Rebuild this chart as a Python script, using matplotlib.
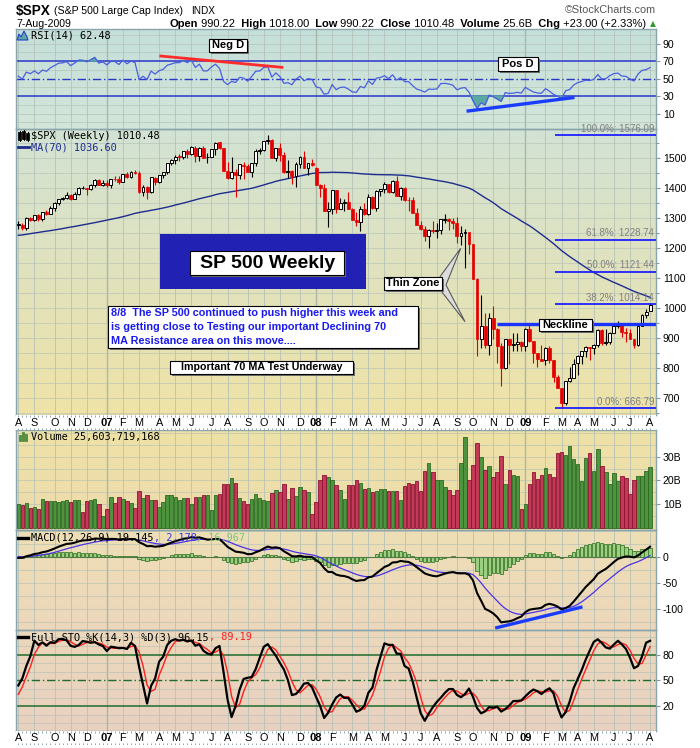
import numpy as np
import pandas as pd
import matplotlib
matplotlib.use("Agg")
import matplotlib.pyplot as plt
from matplotlib.patches import Rectangle, Polygon
from matplotlib.lines import Line2D
from matplotlib.colors import LinearSegmentedColormap

# ---------------- weekly S&P 500 data ----------------
first_week = "2006-08-04"

# closes of the 69 weeks before the first bar (used to warm up MA / RSI / MACD)
closes_prior = [
    1181.2, 1142.6, 1152.1, 1156.9, 1171.4, 1154.1, 1189.3, 1198.8, 1196.0, 1200.9,
    1217.0, 1191.6, 1211.9, 1211.9, 1227.9, 1233.7, 1234.2, 1226.4, 1230.4, 1219.7,
    1205.1, 1235.4, 1241.5, 1237.9, 1215.3, 1228.8, 1195.9, 1186.6, 1179.6, 1198.4,
    1220.1, 1234.7, 1248.3, 1268.3, 1265.1, 1259.4, 1267.3, 1268.7, 1248.3,
    1285.5, 1287.6, 1261.5, 1283.7, 1264.0, 1267.0, 1287.2, 1289.4, 1287.2, 1281.4,
    1307.3, 1303.0, 1294.8, 1295.5, 1289.1, 1311.3, 1310.6, 1325.8, 1291.2, 1267.0,
    1280.2, 1288.2, 1252.3, 1251.5, 1244.5, 1270.2, 1265.5, 1236.2, 1240.3, 1278.6]
# highs / lows of the last 18 prior weeks (stochastic warm-up)
highs_prior = [1310, 1310, 1300, 1318, 1316, 1326, 1326, 1294, 1286,
               1291, 1289, 1257, 1258, 1276, 1280, 1273, 1262, 1280]
lows_prior = [1291, 1292, 1280, 1285, 1300, 1303, 1290, 1259, 1245,
              1262, 1250, 1219, 1238, 1238, 1265, 1234, 1225, 1235]

opens = [
    1279, 1279, 1267, 1302, 1295, 1311, 1299, 1320, 1315, 1336,
    1350, 1366, 1369, 1377, 1364, 1381, 1401, 1401, 1397, 1410,
    1427, 1411,
    1418, 1410, 1431, 1431, 1422, 1448, 1438, 1455,
    1451, 1387, 1403, 1387, 1436, 1421, 1444, 1453, 1484, 1494,
    1506, 1506, 1523, 1516, 1536, 1508, 1533, 1503, 1503, 1530,
    1553, 1534, 1459, 1433, 1454, 1446, 1479, 1474, 1454, 1484,
    1526, 1527, 1558, 1562, 1501, 1535, 1510, 1454, 1459, 1441,
    1481, 1505, 1468, 1484,
    1468, 1412, 1401, 1325, 1331, 1395, 1331, 1350, 1353, 1331,
    1293, 1288, 1330, 1315, 1370, 1333, 1390, 1398, 1414, 1388,
    1425, 1376, 1400, 1361, 1360, 1318, 1278, 1263, 1240, 1261,
    1258, 1260, 1296, 1298, 1292, 1283, 1242, 1252, 1255, 1213,
    1099, 899, 941, 877, 969, 931, 873, 800, 896, 876,
    880, 888,
    873, 932, 890, 850, 832, 826, 869, 827, 770, 735,
    683, 757, 769, 816, 842, 857, 870, 866, 877, 929,
    883, 887, 919, 940, 946, 921, 919, 896, 879, 940,
    979, 990.22]

highs = [
    1292, 1283, 1303, 1303, 1312, 1314, 1320, 1328, 1340, 1353,
    1366, 1372, 1389, 1381, 1388, 1403, 1407, 1402, 1416, 1431,
    1430, 1427,
    1429, 1432, 1441, 1441, 1449, 1453, 1457, 1461,
    1459, 1410, 1409, 1438, 1437, 1445, 1453, 1485, 1498, 1510,
    1514, 1523, 1530, 1540, 1540, 1538, 1540, 1517, 1532, 1555,
    1556, 1534, 1488, 1504, 1466, 1481, 1487, 1482, 1485, 1530,
    1533, 1559, 1576.09, 1565, 1536, 1552, 1520, 1493, 1462, 1488,
    1508, 1523, 1485, 1499,
    1472, 1416, 1414, 1355, 1396, 1396, 1368, 1365, 1388, 1336,
    1321, 1341, 1352, 1380, 1374, 1395, 1399, 1422, 1416, 1427,
    1440, 1406, 1405, 1371, 1370, 1333, 1292, 1273, 1263, 1292,
    1284, 1297, 1313, 1301, 1300, 1304, 1274, 1265, 1255, 1214,
    1100, 1044, 985, 984, 1007, 934, 885, 897, 897, 919,
    918, 892,
    934, 944, 891, 852, 877, 870, 875, 827, 779, 735,
    759, 804, 832, 845, 858, 875, 871, 880, 930, 931,
    930, 920, 951, 956, 946, 934, 931, 898, 942, 980,
    997, 1018.00]

lows = [
    1265, 1261, 1262, 1290, 1292, 1290, 1292, 1310, 1313, 1326,
    1343, 1360, 1366, 1360, 1363, 1379, 1397, 1377, 1394, 1404,
    1410, 1407,
    1403, 1402, 1424, 1416, 1420, 1434, 1434, 1447,
    1386, 1374, 1364, 1385, 1410, 1417, 1433, 1447, 1478, 1481,
    1491, 1499, 1501, 1510, 1487, 1492, 1500, 1484, 1503, 1510,
    1530, 1457, 1432, 1430, 1371, 1430, 1432, 1453, 1439, 1475,
    1516, 1526, 1547, 1500, 1490, 1492, 1450, 1435, 1416, 1406,
    1469, 1467, 1446, 1473,
    1411, 1370, 1325, 1270, 1316, 1317, 1331, 1325, 1330, 1293,
    1274, 1257, 1312, 1310, 1332, 1324, 1375, 1385, 1384, 1384,
    1373, 1362, 1358, 1326, 1317, 1278, 1260, 1225, 1200, 1250,
    1234, 1247, 1283, 1261, 1264, 1217, 1212, 1134, 1180, 1097,
    840, 866, 866, 845, 899, 818, 741, 798, 815, 856,
    857, 857,
    857, 888, 818, 804, 825, 812, 818, 754, 735, 666.79,
    676, 753, 769, 779, 814, 838, 826, 847, 872, 878,
    879, 882, 919, 934, 904, 888, 896, 869, 875, 940,
    968, 990.22]

closes = [
    1279.4, 1266.7, 1302.3, 1295.1, 1311.0, 1298.9, 1319.7, 1314.8, 1335.9, 1349.6,
    1365.6, 1368.6, 1377.3, 1364.3, 1380.9, 1401.2, 1401.0, 1396.7, 1409.8, 1427.1,
    1410.8, 1418.3,
    1409.7, 1430.7, 1430.5, 1422.2, 1448.4, 1438.1, 1455.5, 1451.2,
    1387.2, 1402.8, 1387.0, 1436.1, 1420.9, 1443.8, 1452.9, 1484.4, 1494.1, 1505.6,
    1505.9, 1522.8, 1515.7, 1536.3, 1507.7, 1532.9, 1502.6, 1503.4, 1530.4, 1552.5,
    1534.1, 1459.0, 1433.1, 1453.6, 1445.9, 1479.4, 1474.0, 1453.6, 1484.3, 1525.8,
    1526.8, 1557.6, 1561.8, 1500.6, 1535.3, 1509.7, 1453.7, 1458.7, 1440.7, 1481.1,
    1504.7, 1468.0, 1484.5, 1478.5,
    1411.6, 1401.0, 1325.2, 1330.6, 1395.4, 1331.3, 1350.0, 1353.1, 1330.6, 1293.4,
    1288.1, 1329.5, 1315.2, 1370.4, 1332.8, 1390.3, 1397.8, 1413.9, 1388.3, 1425.4,
    1375.9, 1400.4, 1360.7, 1360.0, 1317.9, 1278.4, 1262.9, 1239.5, 1260.7, 1257.8,
    1260.3, 1296.3, 1298.2, 1292.2, 1282.8, 1242.3, 1251.7, 1255.1, 1213.3, 1099.2,
    899.2, 940.6, 876.8, 968.8, 931.0, 873.3, 800.0, 896.2, 876.1, 879.7,
    887.9, 872.8,
    931.8, 890.4, 850.1, 832.0, 825.9, 868.6, 826.8, 770.1, 735.1, 683.4,
    756.6, 768.5, 815.9, 842.5, 856.6, 869.6, 866.2, 877.5, 929.2, 882.9,
    887.0, 919.1, 940.1, 946.2, 921.2, 918.9, 896.4, 879.1, 940.4, 979.3,
    987.5, 1010.48]

# weekly volume, billions of shares
volume_bn = [
    10.3, 9.6, 10.4, 8.5, 9.0, 8.0, 12.2, 11.2, 11.2, 11.2,
    10.9, 11.5, 11.8, 10.9, 11.8, 11.8, 6.8, 11.4, 11.9, 12.2,
    10.1, 5.2, 8.0, 13.1, 10.6, 13.1, 12.2, 11.2, 10.4, 8.5,
    15.6, 12.8, 13.7, 11.8, 11.8, 9.0, 10.9, 13.7, 14.1, 13.2,
    11.8, 12.6, 12.6, 10.3, 13.2, 13.2, 13.7, 14.1, 7.6, 13.7,
    14.4, 18.6, 18.6, 20.9, 19.1, 12.6, 11.2, 10.1, 12.2, 14.4,
    12.6, 11.8, 11.2, 14.8, 15.8, 15.2, 18.6, 12.2, 16.9, 13.6,
    17.2, 15.8, 15.2, 6.0, 10.9, 20.4, 22.1, 21.5, 20.2, 18.3,
    16.1, 12.2, 18.3,
    18.3, 20.2, 19.0, 16.4, 16.9, 15.2, 15.6, 16.4, 16.4, 15.6,
    15.6, 15.6, 11.8, 17.7, 19.0, 18.6, 19.8, 15.6, 24.0, 27.4,
    23.6, 20.2, 20.2, 17.3, 16.0, 13.9, 16.0, 27.4, 38.3, 20.2,
    26.6, 35.8, 29.9, 24.6, 25.9, 21.3, 23.5, 30.3, 18.6, 24.4,
    22.3, 21.9, 8.0, 10.1, 18.6, 23.5, 20.7, 22.3, 25.3, 22.7,
    21.5, 31.6, 32.0, 30.7, 34.5, 29.0, 26.9, 19.8, 29.4, 31.6,
    24.0, 33.2, 25.9, 23.5, 18.6, 23.2, 19.8, 21.9, 21.0, 14.3,
    20.2, 21.9, 21.9, 24.0, 25.6]

month_letters = {2: "F", 3: "M", 4: "A", 5: "M", 6: "J", 7: "J",
                 8: "A", 9: "S", 10: "O", 11: "N", 12: "D"}
fib_ratios = [1.0, 0.618, 0.5, 0.382, 0.0]
neckline_level = 948

rsi_ticks = [10, 30, 50, 70, 90]
price_ticks = [700, 800, 900, 1000, 1100, 1200, 1300, 1400, 1500]
volume_ticks = [10, 20, 30]
macd_ticks = [-100, -50, 0]
sto_ticks = [20, 50, 80]

# ---------------- indicators ----------------
N = len(closes)
P = len(closes_prior)
x = np.arange(N)
o = np.array(opens, float)
h = np.array(highs, float)
l = np.array(lows, float)
c = np.array(closes, float)
vol = np.array(volume_bn, float)

c_all = pd.Series(closes_prior + closes, dtype=float)
ma70 = c_all.rolling(70).mean().to_numpy()[P:]

delta = c_all.diff().fillna(0)
avg_gain = delta.clip(lower=0).ewm(alpha=1 / 14, adjust=False).mean()
avg_loss = (-delta).clip(lower=0).ewm(alpha=1 / 14, adjust=False).mean()
rsi = (100 - 100 / (1 + avg_gain / avg_loss)).to_numpy()[P:]

ema12 = c_all.ewm(span=12, adjust=False).mean()
ema26 = c_all.ewm(span=26, adjust=False).mean()
macd_s = ema12 - ema26
signal_s = macd_s.ewm(span=9, adjust=False).mean()
macd = macd_s.to_numpy()[P:]
signal = signal_s.to_numpy()[P:]
hist = macd - signal

pad = [np.nan] * (P - len(highs_prior))
h_all = pd.Series(pad + highs_prior + highs, dtype=float)
l_all = pd.Series(pad + lows_prior + lows, dtype=float)
hh = h_all.rolling(14).max()
ll = l_all.rolling(14).min()
fast_k = 100 * (c_all - ll) / (hh - ll)
sto_k_s = fast_k.rolling(3).mean()
sto_d_s = sto_k_s.rolling(3).mean()
sto_k = sto_k_s.to_numpy()[P:]
sto_d = sto_d_s.to_numpy()[P:]

prev_close = np.concatenate([[closes_prior[-1]], c[:-1]])
vol_up = c >= prev_close

dates = pd.date_range(first_week, periods=N, freq="W-FRI")
month_starts = [0] + [i for i in range(1, N) if dates[i].month != dates[i - 1].month]

# ---------------- figure layout (pixel based) ----------------
W, H = 700, 748
fig = plt.figure(figsize=(W / 100, H / 100), dpi=100)
fig.patch.set_facecolor("white")
SANS = "Liberation Sans"
MONO = "DejaVu Sans Mono"
XL, XR = 16, 656
XLIM = (-0.57, 158.47)
SPINE = "#8aa4ac"
GRID = "#b3c0b5"


def fx(px):
    return px / W


def fy(py):
    return 1 - py / H


def rect_px(top, bottom):
    return [fx(XL), fy(bottom), (XR - XL) / W, (bottom - top) / H]


def make_panel(top, bottom, col_top, col_bot, ylim):
    r = rect_px(top, bottom)
    bg = fig.add_axes(r, zorder=0)
    cmap = LinearSegmentedColormap.from_list("bg", [col_bot, col_top])
    bg.imshow(np.linspace(0, 1, 256).reshape(-1, 1), aspect="auto", cmap=cmap,
              origin="lower", extent=[0, 1, 0, 1])
    bg.set_axis_off()
    ax = fig.add_axes(r, zorder=1)
    ax.set_facecolor("none")
    ax.set_xlim(*XLIM)
    ax.set_ylim(*ylim)
    for s in ax.spines.values():
        s.set_color(SPINE)
        s.set_linewidth(1.0)
    ax.set_xticks([])
    ax.yaxis.tick_right()
    ax.tick_params(axis="y", which="both", direction="out", color="#7f9aa5",
                   labelsize=7.5, pad=2, width=0.8)
    ax.tick_params(axis="y", which="major", length=3)
    ax.tick_params(axis="y", which="minor", length=2)
    for i in month_starts:
        yr = dates[i].month == 1
        ax.axvline(i, color="#9eada0" if yr else GRID, lw=1.0 if yr else 0.7,
                   alpha=0.8, zorder=1)
    return ax


def hgrid(ax, levels):
    for v in levels:
        ax.axhline(v, color=GRID, lw=0.6, alpha=0.7, zorder=1)


def set_ticks(ax, ticks, labels=None):
    ax.set_yticks(ticks)
    ax.set_yticklabels(labels if labels else [str(t) for t in ticks],
                       family=SANS, fontsize=7.6)


# ---------------- RSI panel ----------------
ax_rsi = make_panel(29, 129, "#c4dfd9", "#d3e6da", (-7.7, 106.6))
hgrid(ax_rsi, [0, 10, 20, 40, 60, 80, 90, 100])
set_ticks(ax_rsi, rsi_ticks)
for lv in (30, 70):
    ax_rsi.axhline(lv, color="#2a36c8", lw=1.1, zorder=2)
ax_rsi.axhline(50, color="#2a36c8", lw=1.0, ls=(0, (6, 2, 1, 2)), zorder=2)
ax_rsi.fill_between(x, rsi, 30, where=rsi < 30, interpolate=True,
                    color="#5aa7a4", zorder=2)
ax_rsi.fill_between(x, rsi, 70, where=rsi > 70, interpolate=True,
                    color="#5aa7a4", zorder=2)
ax_rsi.plot(x, rsi, color="#4a5ee0", lw=0.9, zorder=3)
ax_rsi.plot([35.4, 65.5], [75.7, 62.8], color="#ff2a2a", lw=2.0, zorder=4)
ax_rsi.plot([111.8, 137.8], [12.9, 28.1], color="#1a3cff", lw=2.4, zorder=4)

# ---------------- price panel ----------------
ax_p = make_panel(129, 415, "#d2e2d4", "#efe2a7", (644.3, 1597.7))
hgrid(ax_p, np.arange(650, 1600, 50))
set_ticks(ax_p, price_ticks)
ax_p.set_yticks(np.arange(650, 1600, 50), minor=True)
ax_p.plot(x, ma70, color="#1d2c8f", lw=1.0, zorder=3)

up = c >= o
body_lo = np.minimum(o, c)
body_h = np.maximum(np.abs(c - o), 1.5)
ax_p.vlines(x, l, h, colors=np.where(up, "black", "#e00000"), lw=0.8, zorder=4)
ax_p.bar(x[up], body_h[up], bottom=body_lo[up], width=0.72, facecolor="white",
         edgecolor="black", lw=0.7, zorder=5)
ax_p.bar(x[~up], body_h[~up], bottom=body_lo[~up], width=0.72,
         facecolor="#e20000", edgecolor="#e20000", lw=0.5, zorder=5)

hi_v, lo_v = h.max(), l.min()
for fr in fib_ratios:
    lv = lo_v + fr * (hi_v - lo_v)
    ax_p.hlines(lv, 133.3, XLIM[1], color="#1f1fff", lw=1.3, zorder=6)
    ax_p.annotate(f"{fr * 100:.1f}%: {lv:.2f}", xy=(158.0, lv),
                  xytext=(0, 1.0), textcoords="offset points", ha="right",
                  va="bottom", fontsize=7, family=SANS, color="#808080", zorder=6)
ax_p.hlines(neckline_level, 118.9, XLIM[1], color="#1a33ff", lw=2.4, zorder=6)

# ---------------- volume panel ----------------
ax_v = make_panel(430, 530, "#efe2a6", "#ecdbae", (-0.8, 41.2))
hgrid(ax_v, [5, 10, 15, 20, 25, 30, 35, 40])
set_ticks(ax_v, volume_ticks, [f"{t}B" for t in volume_ticks])
ax_v.bar(x[vol_up], vol[vol_up], width=0.86, color="#4e943f", edgecolor="#2c6a22",
         lw=0.6, zorder=3)
ax_v.bar(x[~vol_up], vol[~vol_up], width=0.86, color="#c33a58", edgecolor="#8e1232",
         lw=0.6, zorder=3)

# ---------------- MACD panel ----------------
ax_m = make_panel(530, 630, "#eedfb6", "#ecd7bb", (-140, 51))
hgrid(ax_m, [-125, -100, -75, -50, -25, 0, 25, 50])
set_ticks(ax_m, macd_ticks)
ax_m.bar(x, hist, width=0.8, color="#9bd083", edgecolor="#3f7a2c", lw=0.6, zorder=2)
ax_m.axhline(0, color="#4f7a45", lw=0.8, zorder=2)
ax_m.plot(x, signal, color="#4b32e6", lw=0.9, zorder=3)
ax_m.plot(x, macd, color="black", lw=1.5, zorder=4)
ax_m.plot([118.9, 139.8], [-135.5, -96.6], color="#1a3cff", lw=2.4, zorder=5)

# ---------------- stochastic panel ----------------
ax_s = make_panel(630, 731, "#ecd8bc", "#e9d1c0", (-9, 108.6))
hgrid(ax_s, [0, 10, 30, 40, 60, 70, 90, 100])
set_ticks(ax_s, sto_ticks)
for lv in (20, 80):
    ax_s.axhline(lv, color="#1f6b2c", lw=1.1, zorder=2)
ax_s.axhline(50, color="#1f6b2c", lw=1.0, ls=(0, (6, 2, 1, 2)), zorder=2)
ax_s.plot(x, sto_d, color="#ff2020", lw=1.0, zorder=3)
ax_s.plot(x, sto_k, color="black", lw=1.6, zorder=4)


# ---------------- date strips ----------------
def date_strip(top, bottom):
    ax = fig.add_axes([fx(XL), fy(bottom), (XR - XL) / W, (bottom - top) / H], zorder=1)
    ax.set_xlim(*XLIM)
    ax.set_ylim(0, 1)
    ax.set_facecolor("white")
    for s in ax.spines.values():
        s.set_visible(False)
    ax.set_xticks([])
    ax.set_yticks([])
    ax.vlines(x, 0.86, 1.0, color="#7f9aa5", lw=0.6)
    ax.vlines(x, 0.0, 0.14, color="#7f9aa5", lw=0.6)
    for i in month_starts:
        m = dates[i].month
        if m == 1:
            ax.text(i, 0.5, f"{dates[i].year % 100:02d}", ha="center", va="center",
                    fontsize=8, family=SANS, fontweight="bold")
        else:
            ax.text(i, 0.5, month_letters[m], ha="center", va="center",
                    fontsize=7.8, family=SANS)
    return ax


date_strip(415, 430)
date_strip(731, 745)


# ---------------- text helpers ----------------
def run(x0, y, pieces, size, family, align="left"):
    r = fig.canvas.get_renderer()
    items, total = [], 0.0
    for txt, col, wt in pieces:
        t = fig.text(0, fy(y), txt, ha="left", va="center", fontsize=size,
                     color=col, fontweight=wt, family=family, zorder=9)
        w = t.get_window_extent(r).width
        items.append((t, w))
        total += w
    cur = x0 - total if align == "right" else x0
    for t, w in items:
        t.set_x(fx(cur))
        cur += w
    return cur


def box(x0, y0, x1, y1, face="white", shadow=True, z=6):
    if shadow:
        fig.add_artist(Rectangle((fx(x0 + 2), fy(y1 + 2)), (x1 - x0) / W, (y1 - y0) / H,
                                 transform=fig.transFigure, facecolor="#6e6e6e",
                                 edgecolor="none", zorder=z - 0.5))
    fig.add_artist(Rectangle((fx(x0), fy(y1)), (x1 - x0) / W, (y1 - y0) / H,
                             transform=fig.transFigure, facecolor=face,
                             edgecolor="black" if face == "white" else "none",
                             lw=0.8, zorder=z))


def label(xc, yc, txt, size, color="black", ha="center"):
    fig.text(fx(xc), fy(yc), txt, ha=ha, va="center", fontsize=size,
             fontweight="bold", family=SANS, color=color, zorder=9)


def fig_line(xs, ys, color, lw):
    fig.add_artist(Line2D([fx(v) for v in xs], [fy(v) for v in ys],
                          transform=fig.transFigure, color=color, lw=lw, zorder=9))


# ---------------- header ----------------
fig.text(fx(16), fy(11), "$SPX", ha="left", va="center", fontsize=9.8,
         fontweight="bold", family=SANS)
fig.text(fx(54), fy(11), "(S&P 500 Large Cap Index)", ha="left", va="center",
         fontsize=7.6, family=SANS)
fig.text(fx(191), fy(11), "INDX", ha="left", va="center", fontsize=7.2, family=SANS)
fig.text(fx(656), fy(10), "\u00a9StockCharts.com", ha="right", va="center",
         fontsize=7.8, family=SANS, color="#555555")
fig.text(fx(16), fy(24), "7-Aug-2009", ha="left", va="center", fontsize=7.6,
         family=SANS)
run(646, 24, [("Open", "black", "bold"), (" 990.22", "black", "normal"),
              ("  High", "black", "bold"), (" 1018.00", "black", "normal"),
              ("  Low", "black", "bold"), (" 990.22", "black", "normal"),
              ("  Close", "black", "bold"), (" 1010.48", "black", "normal"),
              ("  Volume", "black", "bold"), (" 25.6B", "black", "normal"),
              ("  Chg", "black", "bold"), (" +23.00 (+2.33%)", "black", "normal")],
    8.0, SANS, align="right")
fig.text(fx(653), fy(24), "\u25b2", ha="center", va="center", fontsize=5.5,
         color="#2e9a2e", family="DejaVu Sans")

# ---------------- panel legends ----------------
LEG = 7.4
fig.add_artist(Polygon([(fx(17), fy(40)), (fx(19), fy(34)), (fx(21), fy(37)),
                        (fx(24), fy(31)), (fx(27), fy(37)), (fx(28), fy(40))],
                       closed=True, transform=fig.transFigure, facecolor="#5aa7a4",
                       edgecolor="#2a40c8", lw=0.8, zorder=9))
run(31, 36, [("RSI(14) 62.48", "black", "normal")], LEG, MONO)

for cx, top, bot in ((19.5, 132, 140), (23.5, 131, 139), (27.5, 133, 140)):
    fig_line([cx, cx], [top - 1, bot + 1], "black", 0.7)
    fig.add_artist(Rectangle((fx(cx - 1.3), fy(bot)), 2.6 / W, (bot - top) / H,
                             transform=fig.transFigure, facecolor="black",
                             edgecolor="black", lw=0.5, zorder=9))
run(31, 136, [(f"$SPX (Weekly) {c[-1]:.2f}", "black", "normal")], LEG, MONO)
fig_line([18, 29], [147.3, 147.3], "#1d2c8f", 2.0)
run(31, 147.3, [(f"MA(70) {ma70[-1]:.2f}", "#1d2c8f", "normal")], LEG, MONO)

for bx, bh in ((19, 6), (22, 9), (25, 7)):
    fig.add_artist(Rectangle((fx(bx), fy(441)), 2.2 / W, bh / H,
                             transform=fig.transFigure, facecolor="#4e943f",
                             edgecolor="#2c6a22", lw=0.4, zorder=9))
run(31, 437.3, [("Volume 25,603,719,168", "black", "normal")], LEG, MONO)

fig_line([18, 28], [537.7, 537.7], "black", 2.4)
run(31, 537.7, [("MACD(12,26,9) 19.145", "black", "normal"),
                (", 2.178", "#3a34e0", "normal"),
                (", 16.967", "#7cc47a", "normal")], LEG, MONO)

fig_line([18, 28], [637.3, 637.3], "black", 2.4)
run(31, 637.3, [("Full STO %K(14,3) %D(3) 96.15", "black", "normal"),
                (", 89.19", "#ff2020", "normal")], LEG, MONO)

# ---------------- annotation boxes ----------------
box(209, 39, 247, 52)
label(228, 45.5, "Neg D", 8)
box(497.7, 57.3, 538.3, 70.7)
label(518, 64, "Pos D", 8)

box(160, 234, 365.7, 289.3, face="#2121b3", shadow=False, z=5)
box(190, 250.7, 344.3, 275, z=6.5)
label(267.2, 263, "SP 500 Weekly", 14)

box(108.3, 306, 418.3, 348.3)
for yy, txt in ((313.3, "8/8  The SP 500 continued to push higher this week and"),
                (327.3, "is getting close to Testing our important Declining 70"),
                (341.3, "MA Resistance area on this move....")):
    label(111, yy, txt, 7.8, color="#1a1aee", ha="left")

box(170, 360.7, 352.7, 374.3)
label(261.3, 367.5, "Important 70 MA Test Underway", 7.7)

fig.add_artist(Polygon([(fx(440), fy(276.7)), (fx(460.7), fy(248.3)), (fx(446), fy(285)),
                        (fx(465), fy(321.7)), (fx(441.7), fy(291.7))], closed=True,
                       transform=fig.transFigure, facecolor="#dcdcdc",
                       edgecolor="#5a5a5a", lw=0.8, zorder=5))
box(384.3, 276.7, 441.7, 290)
label(413, 283.3, "Thin Zone", 8)

box(539, 319, 591.7, 331)
label(565.3, 325, "Neckline", 8)

fig.savefig("out.png", dpi=100)
